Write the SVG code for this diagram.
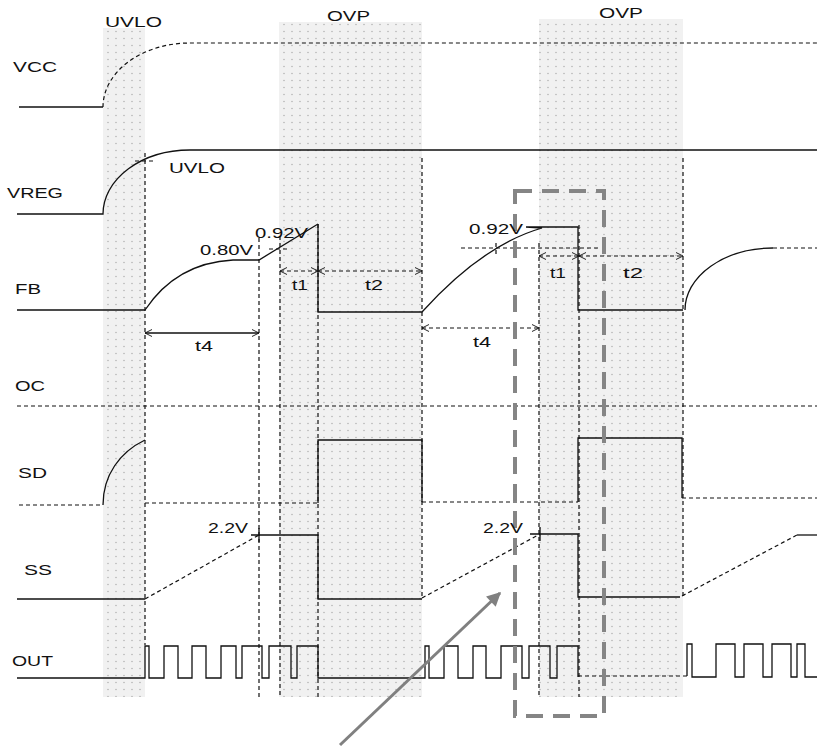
<svg xmlns="http://www.w3.org/2000/svg" width="817" height="747" viewBox="0 0 817 747">
<style>
text{font-family:"Liberation Sans",Arial,sans-serif;font-size:15.5px;fill:#111;}
.s{fill:none;stroke:#111;stroke-width:1.3;}
.d{fill:none;stroke:#111;stroke-width:1.2;stroke-dasharray:4 3;}
.band{fill:url(#dots);}
.gray{fill:none;stroke:#858585;stroke-width:4;stroke-dasharray:17 10;}
</style>
<defs>
<pattern id="dots" x="0" y="0" width="8" height="7" patternUnits="userSpaceOnUse">
<rect width="8" height="7" fill="#f1f1f1"/>
<circle cx="4" cy="3.5" r="0.8" fill="#b5b5b5"/>
</pattern>
<marker id="ah" viewBox="0 0 10 10" refX="10" refY="5" markerWidth="7" markerHeight="8" orient="auto-start-reverse" markerUnits="userSpaceOnUse">
<path d="M0,0 L10,5 L0,10" fill="none" stroke="#111" stroke-width="1.3"/>
</marker>
<marker id="gah" viewBox="0 0 10 10" refX="9" refY="5" markerWidth="16" markerHeight="14" orient="auto" markerUnits="userSpaceOnUse">
<path d="M0,0 L10,5 L0,10 Z" fill="#808080"/>
</marker>
</defs>
<rect width="817" height="747" fill="#fff"/>
<g id="bands">
<rect class="band" x="103" y="28" width="42" height="669"/>
<rect class="band" x="279" y="22" width="143" height="675"/>
<rect class="band" x="539" y="19" width="144" height="678"/>
</g>
<g id="guides">
<path class="d" d="M145,153 V645 M259,238 V698 M280,236 V697 M318,224 V697 M422,158 V598 M539,243 V697 M579,225 V697 M683,158 V596"/>
<path class="d" d="M135,161 H155 M269,249 H290 M461,248 H600 M496,243 V257"/>
<path class="d" d="M17,406 H817"/>
</g>
<g id="vcc">
<path class="s" d="M19,107 H103"/>
<path class="d" d="M103,107 A87,64 0 0 1 190,43 H817"/>
</g>
<g id="vreg">
<path class="s" d="M17,214 H103 A87,64 0 0 1 190,150 H817"/>
</g>
<g id="fb">
<path class="s" d="M17,310 H145 C165,280 195,262 233,260 H259 L318,224"/>
<path class="s" d="M318,224 V312 H422 C460,270 500,240 542,228 L526,227 H578 V310 H683"/>
<path class="s" d="M685,310 A88,62 0 0 1 773,248"/>
<path class="d" d="M773,248 H817"/>
</g>
<g id="sd">
<path class="d" d="M19,505 H103"/>
<path class="s" d="M103,505 C103,475 120,452 145,440"/>
<path class="d" d="M145,503 H318"/>
<path class="s" d="M318,503 V440 H422 V502"/>
<path class="d" d="M422,502 H578"/>
<path class="s" d="M578,502 V438 H682 V498"/>
<path class="d" d="M682,498 H817"/>
</g>
<g id="ss">
<path class="s" d="M17,599 H145"/>
<path class="d" d="M145,599 L259,535"/>
<path class="s" d="M251,535 H318 V599 H422 M259,528 V542"/>
<path class="d" d="M422,598 L540,534"/>
<path class="s" d="M530,534 H578 V597 H680 M540,527 V541"/>
<path class="d" d="M682,596 L797,535"/>
<path class="s" d="M797,535 H817"/>
</g>
<g id="out">
<path class="s" d="M17,678 H145 V646 H149 V678 H164 V646 H178 V678 H192 V646 H206 V678 H221 V646 H236 V678 H242 V646 H262 V678 H269 V646 H291 V678 H297 V646 H318 V678 H425 V646 H429 V678 H444 V646 H458 V678 H473 V646 H486 V678 H501 V646 H522 V678 H529 V646 H550 V678 H557 V646 H578 V677"/>
<path class="d" d="M578,676 H687"/>
<path class="s" d="M687,676 V644 H692 V677 H716 V644 H735 V677 H744 V644 H763 V677 H772 V644 H791 V677 H797 V644 H805 V677 H817"/>
</g>
<g id="connectors">
<line class="s" x1="145" y1="333" x2="259" y2="333" marker-start="url(#ah)" marker-end="url(#ah)"/>
<line class="d" x1="280" y1="271" x2="318" y2="271" marker-start="url(#ah)" marker-end="url(#ah)"/>
<line class="d" x1="318" y1="271" x2="422" y2="271" marker-start="url(#ah)" marker-end="url(#ah)"/>
<line class="d" x1="422" y1="328" x2="539" y2="328" marker-start="url(#ah)" marker-end="url(#ah)"/>
<line class="d" x1="539" y1="256" x2="579" y2="256" marker-start="url(#ah)" marker-end="url(#ah)"/>
<line class="d" x1="579" y1="256" x2="683" y2="256" marker-start="url(#ah)" marker-end="url(#ah)"/>
<line x1="340" y1="745" x2="500" y2="593" stroke="#808080" stroke-width="3" marker-end="url(#gah)"/>
</g>
<g id="highlight">
<rect class="gray" x="515" y="191" width="89" height="525"/>
</g>
<g id="labels">
<text x="105" y="27" textLength="57" lengthAdjust="spacingAndGlyphs">UVLO</text>
<text x="327" y="21" textLength="43" lengthAdjust="spacingAndGlyphs">OVP</text>
<text x="599" y="18" textLength="44" lengthAdjust="spacingAndGlyphs">OVP</text>
<text x="13" y="72" textLength="44" lengthAdjust="spacingAndGlyphs">VCC</text>
<text x="169" y="173" textLength="56" lengthAdjust="spacingAndGlyphs">UVLO</text>
<text x="7" y="198" textLength="56" lengthAdjust="spacingAndGlyphs">VREG</text>
<text x="15" y="294" textLength="26" lengthAdjust="spacingAndGlyphs">FB</text>
<text x="200" y="255" textLength="53" lengthAdjust="spacingAndGlyphs">0.80V</text>
<text x="255" y="238" textLength="53" lengthAdjust="spacingAndGlyphs">0.92V</text>
<text x="292" y="290" textLength="16" lengthAdjust="spacingAndGlyphs">t1</text>
<text x="365" y="290" textLength="18" lengthAdjust="spacingAndGlyphs">t2</text>
<text x="195" y="351" textLength="18" lengthAdjust="spacingAndGlyphs">t4</text>
<text x="15" y="391" textLength="30" lengthAdjust="spacingAndGlyphs">OC</text>
<text x="469" y="234" textLength="54" lengthAdjust="spacingAndGlyphs">0.92V</text>
<text x="550" y="278" textLength="16" lengthAdjust="spacingAndGlyphs">t1</text>
<text x="623" y="278" textLength="20" lengthAdjust="spacingAndGlyphs">t2</text>
<text x="473" y="347" textLength="18" lengthAdjust="spacingAndGlyphs">t4</text>
<text x="18" y="478" textLength="29" lengthAdjust="spacingAndGlyphs">SD</text>
<text x="24" y="575" textLength="28" lengthAdjust="spacingAndGlyphs">SS</text>
<text x="208" y="533" textLength="40" lengthAdjust="spacingAndGlyphs">2.2V</text>
<text x="483" y="533" textLength="40" lengthAdjust="spacingAndGlyphs">2.2V</text>
<text x="12" y="666" textLength="41" lengthAdjust="spacingAndGlyphs">OUT</text>
</g>
</svg>
